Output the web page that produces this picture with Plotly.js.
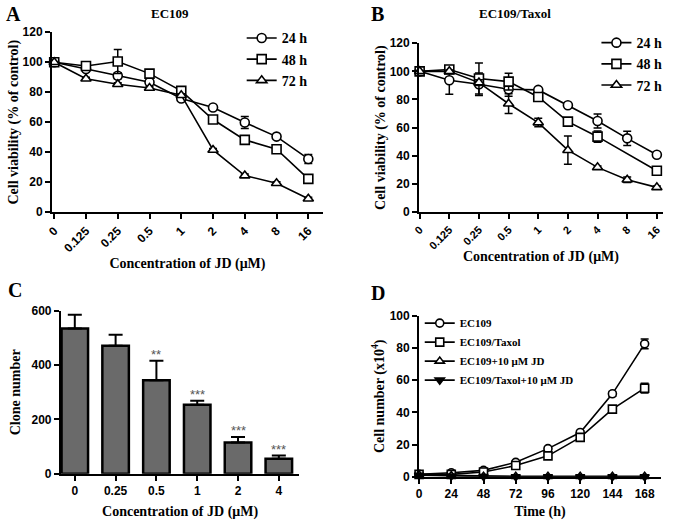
<!DOCTYPE html>
<html><head><meta charset="utf-8">
<script src="https://cdn.plot.ly/plotly-3.0.1.min.js"></script>
<style>body{margin:0;background:#fff}#chart{width:677px;height:520px}</style>
</head><body><div id="chart"></div>
<script>
// ---- data ----
const concLabels = ['0','0.125','0.25','0.5','1','2','4','8','16'];
const a24 = [100, 95.5, 91, 86.7, 75.8, 69.8, 59.8, 50.4, 35.5];
const a24Err = [0, 1, 2, 1, 1, 1, 4, 1, 3];
const a48 = [100, 97.5, 100.5, 92.4, 80.9, 61.8, 48.2, 42, 22.2];
const a48Err = [0, 1, 8, 1, 1, 1, 1, 1, 1];
const a72 = [100, 89, 85.3, 82.8, 78, 41.5, 24.4, 19.3, 8.9];
const a72Err = [0, 1, 1, 1, 1, 1, 1, 1, 1];

const b24 = [100, 93.7, 90.8, 87.3, 86.8, 75.9, 64.7, 52.4, 40.8];
const b24Err = [0, 10, 8, 5, 1, 1, 5, 5, 1];
const b48 = [100, 101.3, 94.9, 92.7, 81.8, 64.3, 53.6, null, 29.4];
const b48Err = [0, 2, 11, 6, 1, 1, 4, 0, 2];
const b72 = [100, 100, 92, 77, 63.6, 44, 31.8, 23, 17.6];
const b72Err = [0, 1, 2, 7, 3, 10, 1, 2, 1];

const cloneLabels = ['0','0.25','0.5','1','2','4'];
const clone = [535, 472, 345, 254, 115, 55];
const cloneErr = [51, 40, 71, 15, 20, 12];
const cloneStars = ['', '', '**', '***', '***', '***'];

const hours = [0, 24, 48, 72, 96, 120, 144, 168];
const ec109 = [1.5, 2.5, 4, 9, 17.5, 27.5, 51.5, 82.5];
const ec109Err = [0.3, 0.5, 0.5, 0.5, 1, 1, 1.5, 3];
const taxol = [1.5, 1.5, 3, 7, 13, 24.5, 42, 55];
const taxolErr = [0.3, 0.3, 0.5, 0.5, 0.8, 1, 1, 3];
const ec109Jd = [1.2, 0.8, 0.4, 0.3, 0.3, 0.3, 0.3, 0.3];
const taxolJd = [1.0, 0.5, 0.2, 0.1, 0.1, 0.1, 0.1, 0.1];

const seriesNames = ['24 h', '48 h', '72 h'];
const dNames = ['EC109', 'EC109/Taxol', 'EC109+10 μM JD', 'EC109/Taxol+10 μM JD'];

// ---- styling ----
const serif = 'Liberation Serif, Times New Roman, serif';
const sans = 'Liberation Sans, Arial, sans-serif';
const symA = ['circle', 'square', 'triangle-up'];

function lineTrace(x, y, err, sym, name, xa, ya, leg, size, fill) {
  return {
    type: 'scatter', mode: 'lines+markers', x: x, y: y, name: name,
    xaxis: xa, yaxis: ya, legend: leg, connectgaps: true, cliponaxis: false,
    line: {color: '#000', width: 1.6},
    marker: {symbol: sym, size: size || 9, color: fill || '#fff', line: {color: '#000', width: 1.6}},
    error_y: {type: 'data', array: err, visible: true, color: '#000', thickness: 1.5, width: 4}
  };
}

const traces = [
  lineTrace(concLabels, a24, a24Err, symA[0], seriesNames[0], 'x', 'y', 'legend'),
  lineTrace(concLabels, a48, a48Err, symA[1], seriesNames[1], 'x', 'y', 'legend'),
  lineTrace(concLabels, a72, a72Err, symA[2], seriesNames[2], 'x', 'y', 'legend'),
  lineTrace(concLabels, b24, b24Err, symA[0], seriesNames[0], 'x2', 'y2', 'legend2'),
  lineTrace(concLabels, b48, b48Err, symA[1], seriesNames[1], 'x2', 'y2', 'legend2'),
  lineTrace(concLabels, b72, b72Err, symA[2], seriesNames[2], 'x2', 'y2', 'legend2'),
  {
    type: 'bar', x: cloneLabels, y: clone, xaxis: 'x3', yaxis: 'y3', width: 0.65,
    showlegend: false, cliponaxis: false,
    marker: {color: '#6a6a6a', line: {color: '#000', width: 2.5}},
    error_y: {type: 'data', symmetric: false, array: cloneErr, arrayminus: cloneErr.map(() => 0),
              visible: true, color: '#000', thickness: 2, width: 7}
  },
  lineTrace(hours, ec109, ec109Err, 'circle', dNames[0], 'x4', 'y4', 'legend3', 8),
  lineTrace(hours, taxol, taxolErr, 'square', dNames[1], 'x4', 'y4', 'legend3', 8),
  lineTrace(hours, ec109Jd, ec109Jd.map(() => 0), 'triangle-up', dNames[2], 'x4', 'y4', 'legend3', 8),
  lineTrace(hours, taxolJd, taxolJd.map(() => 0), 'triangle-down', dNames[3], 'x4', 'y4', 'legend3', 8, '#000')
];

function ax(extra) {
  return Object.assign({
    showgrid: false, zeroline: false, showline: true, linecolor: '#000', linewidth: 2,
    ticks: 'outside', ticklen: 5, tickwidth: 2, tickcolor: '#000',
    tickfont: {family: sans, size: 12, color: '#000', weight: 'bold'},
    automargin: false
  }, extra);
}
const axTitleFont = {family: serif, size: 14, color: '#000', weight: 'bold'};
const panelFont = {family: serif, size: 20, weight: 'bold'};
const headFont = {family: serif, size: 13, weight: 'bold'};

const starNotes = [];
cloneStars.forEach((s, i) => {
  if (s) starNotes.push({
    text: s, x: i, y: clone[i] + cloneErr[i], xref: 'x3', yref: 'y3',
    xanchor: 'center', yanchor: 'bottom', showarrow: false, yshift: -3,
    font: {family: sans, size: 13, color: '#555'}
  });
});

const layout = {
  width: 677, height: 520, margin: {l: 0, r: 0, t: 0, b: 0},
  paper_bgcolor: '#fff', plot_bgcolor: '#fff',
  font: {family: serif, color: '#000'},
  xaxis: ax({domain: [0.0768, 0.477], type: 'category', range: [-0.07, 8.46], tickangle: -45, anchor: 'y',
    title: {text: 'Concentration of JD (μM)', font: axTitleFont, standoff: 4}}),
  yaxis: ax({domain: [0.592, 0.938], range: [0, 120], dtick: 20, anchor: 'x',
    title: {text: 'Cell viability (% of control)', font: axTitleFont, standoff: 1}}),
  xaxis2: ax({domain: [0.619, 0.979], type: 'category', range: [-0.02, 8.2], tickangle: -45, anchor: 'y2',
    tickfont: {family: sans, size: 11, color: '#000', weight: 'bold'},
    title: {text: 'Concentration of JD (μM)', font: axTitleFont, standoff: 1}}),
  yaxis2: ax({domain: [0.592, 0.917], range: [0, 120], dtick: 20, anchor: 'x2',
    title: {text: 'Cell viability (% of control)', font: axTitleFont, standoff: 1}}),
  xaxis3: ax({domain: [0.090, 0.442], type: 'category', range: [-0.34, 5.5], anchor: 'y3',
    title: {text: 'Concentration of JD (μM)', font: axTitleFont, standoff: 9}}),
  yaxis3: ax({domain: [0.089, 0.402], range: [0, 600], dtick: 200, anchor: 'x3',
    title: {text: 'Clone number', font: axTitleFont, standoff: 8}}),
  xaxis4: ax({domain: [0.619, 0.976], range: [0, 180], tickvals: hours, anchor: 'y4',
    title: {text: 'Time (h)', font: axTitleFont, standoff: 6}}),
  yaxis4: ax({domain: [0.083, 0.393], range: [0, 100], dtick: 20, anchor: 'x4',
    title: {text: 'Cell number (x10<sup>4</sup>)', font: axTitleFont, standoff: 2}}),
  legend: {x: 0.357, y: 0.957, xanchor: 'left', yanchor: 'top', bgcolor: 'rgba(0,0,0,0)',
    font: {family: serif, size: 14, weight: 'bold'}, tracegroupgap: 0, itemwidth: 30},
  legend2: {x: 0.881, y: 0.948, xanchor: 'left', yanchor: 'top', bgcolor: 'rgba(0,0,0,0)',
    font: {family: serif, size: 14, weight: 'bold'}, tracegroupgap: 0, itemwidth: 30},
  legend3: {x: 0.62, y: 0.4065, xanchor: 'left', yanchor: 'top', bgcolor: 'rgba(0,0,0,0)',
    font: {family: serif, size: 11, weight: 'bold'}, tracegroupgap: 0, itemwidth: 30},
  annotations: [
    {text: 'A', x: 0.02, y: 0.974, xref: 'paper', yref: 'paper', xanchor: 'center', yanchor: 'middle', showarrow: false, font: panelFont},
    {text: 'B', x: 0.557, y: 0.974, xref: 'paper', yref: 'paper', xanchor: 'center', yanchor: 'middle', showarrow: false, font: panelFont},
    {text: 'C', x: 0.0215, y: 0.442, xref: 'paper', yref: 'paper', xanchor: 'center', yanchor: 'middle', showarrow: false, font: panelFont},
    {text: 'D', x: 0.558, y: 0.436, xref: 'paper', yref: 'paper', xanchor: 'center', yanchor: 'middle', showarrow: false, font: panelFont},
    {text: 'EC109', x: 0.251, y: 0.975, xref: 'paper', yref: 'paper', xanchor: 'center', yanchor: 'middle', showarrow: false, font: headFont},
    {text: 'EC109/Taxol', x: 0.761, y: 0.975, xref: 'paper', yref: 'paper', xanchor: 'center', yanchor: 'middle', showarrow: false, font: headFont}
  ].concat(starNotes)
};

Plotly.newPlot('chart', traces, layout, {staticPlot: true, displayModeBar: false});
</script></body></html>
